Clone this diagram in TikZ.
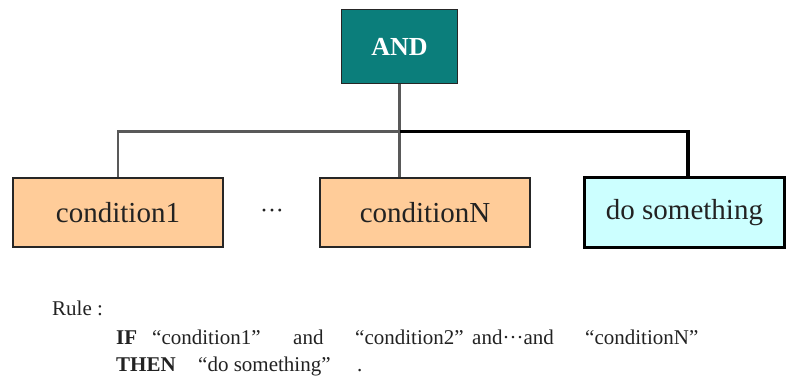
\documentclass[tikz,border=0pt]{standalone}
\usepackage{fontspec}
\setmainfont{Liberation Serif}
\definecolor{teal1}{HTML}{0B7E7B}
\definecolor{orange1}{HTML}{FFCC99}
\definecolor{cyan1}{HTML}{CCFFFF}
\definecolor{txt}{HTML}{222222}
\tikzset{
  box/.style={draw=black!85, line width=1.8pt, inner sep=0pt, font=\fontsize{29}{31}\selectfont, text=txt},
  andbox/.style={box, fill=teal1, text=white, font=\fontsize{26}{28}\selectfont\bfseries},
  condbox/.style={box, fill=orange1},
  actbox/.style={box, fill=cyan1, draw=black, line width=2.8pt},
  thinline/.style={draw=black!65, line width=2.4pt},
  thickline/.style={draw=black, line width=3.2pt},
  ruletext/.style={anchor=base west, inner sep=0pt, text=txt, font=\fontsize{21}{23}\selectfont}
}
\begin{document}
\begin{tikzpicture}[x=1pt,y=-1pt]
\useasboundingbox (0,0) rectangle (787,379);
\node[andbox, minimum width=116pt, minimum height=74pt] (and) at (399.5,46.5) {AND};
\node[condbox, minimum width=210pt, minimum height=69pt] (c1) at (118,212.5) {condition1};
\node[condbox, minimum width=210pt, minimum height=69pt] (cN) at (425,212.5) {conditionN};
\node[actbox, minimum width=200pt, minimum height=70pt] (ds) at (684.5,212.5) {do something};
\node[anchor=base, inner sep=0pt, text=txt, font=\fontsize{24}{26}\selectfont] (dots) at (272,219) {···};
\coordinate (j) at (399.5,131.5);
\coordinate (r) at (688,131.5);
\draw[thinline] (and.south) -- (j);
\draw[thinline] (j) -| (c1.north);
\draw[thinline] (j) -- (j |- cN.north);
\draw[thickline] (j) -- (r) -- (r |- ds.north);
\node[ruletext] (rule) at (52,316) {Rule :};
\node[ruletext] (if) at (116,344) {\textbf{IF}};
\node[ruletext] (q1) at (152,344) {“condition1”};
\node[ruletext] (a1) at (293,344) {and};
\node[ruletext] (q2) at (355,344) {“condition2”};
\node[ruletext] (a2) at (472,344) {and···and};
\node[ruletext] (q3) at (585,344) {“conditionN”};
\node[ruletext] (then) at (116,371) {\textbf{THEN}};
\node[ruletext] (q4) at (198,371) {“do something”};
\node[ruletext] (dot) at (357,371) {.};
\end{tikzpicture}
\end{document}
